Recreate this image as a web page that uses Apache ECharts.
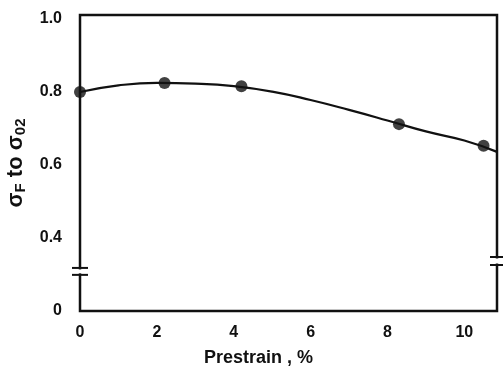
<!DOCTYPE html>
<html>
<head>
<meta charset="utf-8">
<script src="https://cdn.jsdelivr.net/npm/echarts@6/dist/echarts.min.js"></script>
<style>
  html, body { margin: 0; padding: 0; background: #fff; }
  #main { width: 503px; height: 371px; }
</style>
</head>
<body>
<div id="main"></div>
<script>
// measured points
var prestrain = [0, 2.2, 4.2, 8.3, 10.5];
var ratio = [0.80, 0.825, 0.816, 0.712, 0.653];
// fitted curve
var curveX = [0, 1, 2, 3, 4, 5, 6, 7, 8, 9, 10, 10.85];
var curveY = [0.80, 0.818, 0.825, 0.823, 0.816, 0.801, 0.778, 0.751, 0.722, 0.692, 0.667, 0.636];
var xTicks = [0, 2, 4, 6, 8, 10];
// y axis is broken: the bottom tick (at 0.2 position) reads "0"
var yTicks = [0.2, 0.4, 0.6, 0.8, 1.0];
var yTickLabels = ['0', '0.4', '0.6', '0.8', '1.0'];

var chart = echarts.init(document.getElementById('main'));
var ink = '#111';
var font = 'Liberation Sans';

function pair(xs, ys) {
  return xs.map(function (x, i) { return [x, ys[i]]; });
}

chart.setOption({
  animation: false,
  grid: {
    left: 80, right: 6, top: 15, bottom: 60,
    outerBoundsMode: 'none',
    show: true, borderColor: ink, borderWidth: 2.5
  },
  xAxis: {
    type: 'value',
    min: 0, max: 10.85, interval: 2,
    axisLine: { show: false },
    axisTick: { show: false },
    splitLine: { show: false },
    axisLabel: {
      color: ink, fontFamily: font, fontSize: 16, fontWeight: 'bold', margin: 14,
      formatter: function (v) {
        for (var i = 0; i < xTicks.length; i++) {
          if (Math.abs(v - xTicks[i]) < 1e-6) return String(xTicks[i]);
        }
        return '';
      }
    },
    name: 'Prestrain , %',
    nameLocation: 'middle',
    nameGap: 38,
    nameTextStyle: { color: ink, fontFamily: font, fontSize: 18, fontWeight: 'bold', padding: [0, 60, 0, 0] }
  },
  yAxis: {
    type: 'value',
    min: 0.2, max: 1.011, interval: 0.2,
    axisLine: { show: false },
    axisTick: { show: false },
    splitLine: { show: false },
    axisLabel: {
      color: ink, fontFamily: font, fontSize: 16, fontWeight: 'bold', margin: 18,
      formatter: function (v) {
        for (var i = 0; i < yTicks.length; i++) {
          if (Math.abs(v - yTicks[i]) < 1e-6) return yTickLabels[i];
        }
        return '';
      }
    },
    name: 'σ{s|F} to σ{s|02}',
    nameLocation: 'middle',
    nameGap: 52,
    nameTextStyle: {
      color: ink, fontFamily: font, fontSize: 22, fontWeight: 'bold',
      rich: { s: { fontFamily: font, fontSize: 15, fontWeight: 'bold', color: ink, verticalAlign: 'bottom', padding: [9, 0, 0, 0] } }
    }
  },
  series: [
    {
      type: 'line',
      data: pair(curveX, curveY),
      smooth: true,
      showSymbol: false,
      lineStyle: { color: ink, width: 2.2 },
      z: 2
    },
    {
      type: 'scatter',
      data: pair(prestrain, ratio),
      symbol: 'circle',
      symbolSize: 12,
      itemStyle: { color: ink },
      z: 3
    }
  ]
});

// axis break marks on the left and right border
function breakMarks(xVal, yHi, yLo, halfW) {
  var a = chart.convertToPixel({ gridIndex: 0 }, [xVal, yHi]);
  var b = chart.convertToPixel({ gridIndex: 0 }, [xVal, yLo]);
  return [
    { type: 'rect', shape: { x: a[0] - 3, y: a[1] + 1.5, width: 6, height: b[1] - a[1] - 3 },
      style: { fill: '#fff' }, z: 100 },
    { type: 'line', shape: { x1: a[0] - halfW, y1: a[1], x2: a[0] + halfW, y2: a[1] },
      style: { stroke: ink, lineWidth: 2 }, z: 101 },
    { type: 'line', shape: { x1: b[0] - halfW, y1: b[1], x2: b[0] + halfW, y2: b[1] },
      style: { stroke: ink, lineWidth: 2 }, z: 101 }
  ];
}

chart.setOption({
  graphic: breakMarks(0, 0.318, 0.299, 8).concat(breakMarks(10.85, 0.348, 0.326, 7))
});
</script>
</body>
</html>
